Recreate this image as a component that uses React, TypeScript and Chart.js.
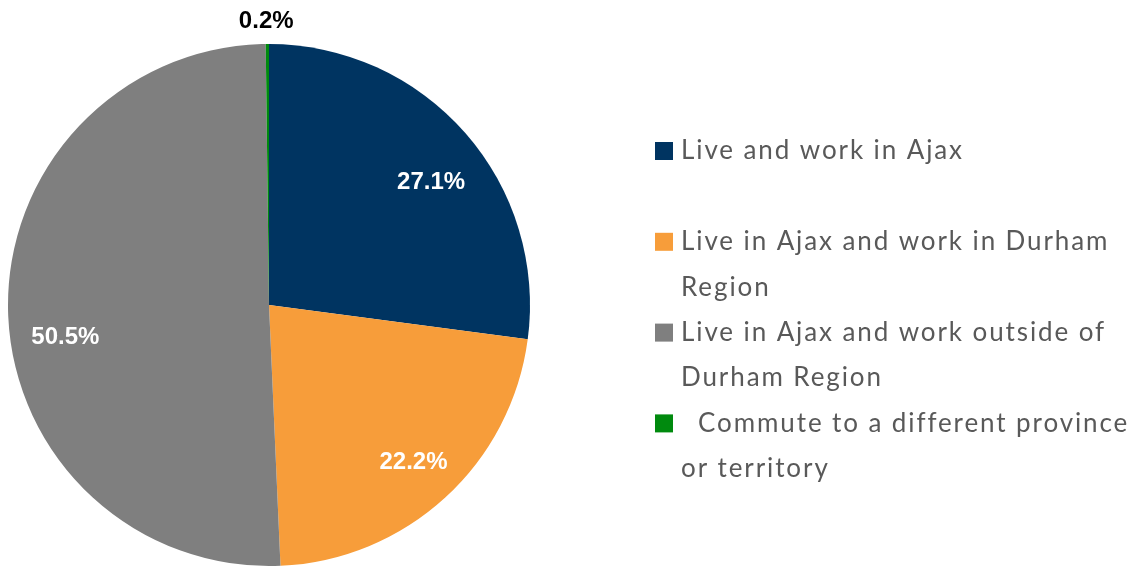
import React, { useEffect, useRef } from "react";
import { Chart, registerables } from "chart.js";

Chart.register(...registerables);

const categories: string[][] = [
  ["Live and work in Ajax"],
  ["Live in Ajax and work in Durham", "Region"],
  ["Live in Ajax and work outside of", "Durham Region"],
  ["  Commute to a different province", "or territory"],
];
const values: number[] = [27.1, 22.2, 50.5, 0.2];
const valueLabels: string[] = ["27.1%", "22.2%", "50.5%", "0.2%"];
const colors: string[] = ["#003461", "#F79D3A", "#7F7F7F", "#008A0E"];

const labelPlugin = {
  id: "sliceLabels",
  afterDatasetsDraw(chart: any) {
    const ctx = chart.ctx;
    const meta = chart.getDatasetMeta(0);
    const nudgeAngle = [0.07, 0, -0.13, 0];
    const radFactor = [0.78, 0.82, 0.79, 0];
    ctx.save();
    ctx.font = "bold 24px 'Liberation Sans', Arial, sans-serif";
    ctx.textAlign = "center";
    ctx.textBaseline = "middle";
    meta.data.forEach((arc: any, i: number) => {
      const p = arc.getProps(["x", "y", "startAngle", "endAngle", "outerRadius"], true);
      const mid = (p.startAngle + p.endAngle) / 2 + nudgeAngle[i];
      let r: number;
      if (values[i] < 1) {
        r = p.outerRadius + 23;
        ctx.fillStyle = "#000000";
      } else {
        r = p.outerRadius * radFactor[i];
        ctx.fillStyle = "#FFFFFF";
      }
      const lx = p.x + Math.cos(mid) * r;
      const ly = p.y + Math.sin(mid) * r;
      ctx.fillText(valueLabels[i], values[i] < 1 ? lx - 1 : lx, ly);
    });
    ctx.restore();
  },
};

const legendPlugin = {
  id: "customLegend",
  afterDraw(chart: any) {
    const ctx = chart.ctx;
    const startY = 151;
    const lineH = 45.4;
    ctx.save();
    ctx.font = "26px Lato, 'Open Sans', sans-serif";
    try {
      (ctx as any).letterSpacing = "1.9px";
    } catch (e) {}
    ctx.textBaseline = "middle";
    ctx.textAlign = "left";
    categories.forEach((lines, i) => {
      const y0 = startY + i * 2 * lineH;
      ctx.fillStyle = colors[i];
      ctx.fillRect(655, y0 - 9, 18, 18);
      ctx.fillStyle = "#595959";
      lines.forEach((t, j) => {
        ctx.fillText(t, 681, y0 + j * lineH);
      });
    });
    ctx.restore();
  },
};

export default function App() {
  const canvasRef = useRef<HTMLCanvasElement | null>(null);
  useEffect(() => {
    if (!canvasRef.current) return;
    const chart = new Chart(canvasRef.current, {
      type: "pie",
      data: {
        labels: categories.map((c) => c.join(" ")),
        datasets: [
          {
            data: values,
            backgroundColor: colors,
            borderWidth: 0,
          },
        ],
      },
      options: {
        animation: false,
        responsive: false,
        maintainAspectRatio: false,
        layout: { padding: { left: 8, top: 44, right: 608, bottom: 3 } },
        plugins: {
          legend: { display: false },
          tooltip: { enabled: false },
        },
      },
      plugins: [labelPlugin, legendPlugin],
    });
    return () => chart.destroy();
  }, []);
  return (
    <div style={{ position: "absolute", left: 0, top: 0, width: 1138, height: 569, background: "#fff" }}>
      <canvas ref={canvasRef} width={1138} height={569} style={{ width: 1138, height: 569 }} />
    </div>
  );
}
